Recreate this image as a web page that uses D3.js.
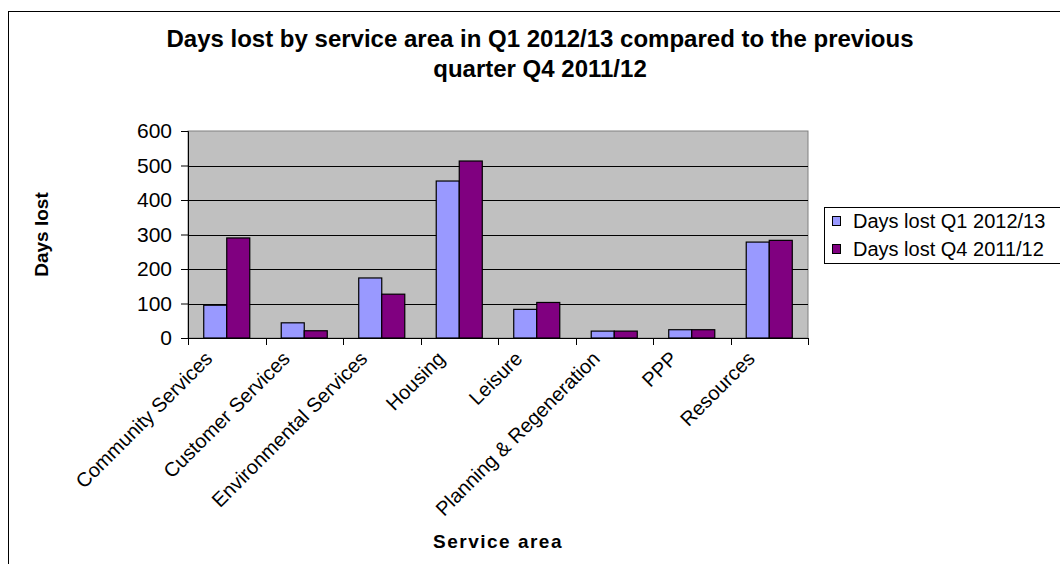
<!DOCTYPE html>
<html>
<head>
<meta charset="utf-8">
<script src="https://cdn.jsdelivr.net/npm/d3@7"></script>
<style>
  body { margin: 0; background: #fff; }
  text { font-family: 'Liberation Sans', Arial, sans-serif; fill: #000; }
</style>
</head>
<body>
<svg></svg>
<script>
const width = 1060;
const height = 564;

const categories = ['Community Services', 'Customer Services', 'Environmental Services', 'Housing',
  'Leisure', 'Planning & Regeneration', 'PPP', 'Resources'];
const seriesNames = ['Days lost Q1 2012/13', 'Days lost Q4 2011/12'];
const q1Values = [95, 44, 174, 455, 83, 20, 24, 278];
const q4Values = [290, 21, 127, 513, 103, 20, 24, 283];
const yTicks = [0, 100, 200, 300, 400, 500, 600];
const colors = ['#9999FF', '#800080'];

const plot = { left: 188, right: 808, top: 131, bottom: 338 };

const svg = d3.select('svg')
  .attr('width', width)
  .attr('height', height);

// outer chart border (runs off the right/bottom edge)
svg.append('rect')
  .attr('x', 8.5)
  .attr('y', 11.5)
  .attr('width', 1100)
  .attr('height', 600)
  .attr('fill', '#fff')
  .attr('stroke', '#000');

const x0 = d3.scaleBand()
  .domain(categories)
  .range([plot.left, plot.right])
  .paddingInner(0.406)
  .paddingOuter(0.203);

const x1 = d3.scaleBand()
  .domain([0, 1])
  .range([0, x0.bandwidth()]);

const yScale = d3.scaleLinear()
  .domain([0, 600])
  .range([plot.bottom, plot.top]);

// ====================================
// Plot area + gridlines
// ====================================
svg.append('rect')
  .attr('x', plot.left)
  .attr('y', plot.top)
  .attr('width', plot.right - plot.left)
  .attr('height', plot.bottom - plot.top)
  .attr('fill', '#C0C0C0')
  .attr('stroke', '#808080');

svg.append('g')
  .selectAll('line')
  .data(yTicks.slice(1, -1))
  .enter()
  .append('line')
  .attr('x1', plot.left)
  .attr('x2', plot.right)
  .attr('y1', d => Math.round(yScale(d)) + 0.5)
  .attr('y2', d => Math.round(yScale(d)) + 0.5)
  .attr('stroke', '#000');

// ====================================
// Bars
// ====================================
const rows = categories.map((c, i) => ({ cat: c, vals: [q1Values[i], q4Values[i]] }));

svg.append('g')
  .selectAll('g')
  .data(rows)
  .enter()
  .append('g')
  .attr('transform', d => `translate(${x0(d.cat)}, 0)`)
  .selectAll('rect')
  .data(d => d.vals.map((v, k) => ({ k, v })))
  .enter()
  .append('rect')
  .attr('x', d => x1(d.k))
  .attr('y', d => yScale(d.v))
  .attr('width', x1.bandwidth())
  .attr('height', d => plot.bottom - yScale(d.v))
  .attr('fill', d => colors[d.k])
  .attr('stroke', '#000')
  .attr('stroke-width', 1.2);

// ====================================
// X and Y Axis
// ====================================
const yAxis = d3.axisLeft(yScale)
  .tickValues(yTicks)
  .tickSize(7)
  .tickPadding(9);

svg.append('g')
  .attr('transform', `translate(${plot.left}, 0)`)
  .call(yAxis)
  .call(g => g.select('.domain').attr('stroke', '#000'))
  .call(g => g.selectAll('text').attr('font-size', '21px'));

// x axis: ticks at category boundaries
const step = x0.step();
const boundaries = d3.range(categories.length + 1).map(i => plot.left + i * step);

svg.append('line')
  .attr('x1', plot.left)
  .attr('x2', plot.right)
  .attr('y1', plot.bottom + 0.5)
  .attr('y2', plot.bottom + 0.5)
  .attr('stroke', '#000');

svg.append('g')
  .selectAll('line')
  .data(boundaries)
  .enter()
  .append('line')
  .attr('x1', d => Math.round(d) + 0.5)
  .attr('x2', d => Math.round(d) + 0.5)
  .attr('y1', plot.bottom)
  .attr('y2', plot.bottom + 7)
  .attr('stroke', '#000');

svg.append('g')
  .selectAll('text')
  .data(categories)
  .enter()
  .append('text')
  .attr('transform', d => `translate(${x0(d) + x0.bandwidth() / 2 - 23}, 350) rotate(-45)`)
  .attr('text-anchor', 'end')
  .attr('dy', '0.7em')
  .attr('font-size', '20px')
  .text(d => d);

// ====================================
// Titles
// ====================================
svg.append('text')
  .attr('x', 540)
  .attr('y', 47)
  .attr('text-anchor', 'middle')
  .attr('font-size', '24px')
  .attr('font-weight', 'bold')
  .selectAll('tspan')
  .data(['Days lost by service area in Q1 2012/13 compared to the previous', 'quarter Q4 2011/12'])
  .enter()
  .append('tspan')
  .attr('x', 540)
  .attr('dy', (d, i) => i ? 30 : 0)
  .text(d => d);

svg.append('text')
  .attr('x', (plot.left + plot.right) / 2)
  .attr('y', 548)
  .attr('text-anchor', 'middle')
  .attr('font-size', '19px')
  .attr('font-weight', 'bold')
  .attr('letter-spacing', '1.5px')
  .text('Service area');

svg.append('text')
  .attr('transform', `translate(48, ${(plot.top + plot.bottom) / 2}) rotate(-90)`)
  .attr('text-anchor', 'middle')
  .attr('font-size', '19px')
  .attr('font-weight', 'bold')
  .text('Days lost');

// ====================================
// Legend
// ====================================
const legend = svg.append('g');

legend.append('rect')
  .attr('x', 824.5)
  .attr('y', 207.5)
  .attr('width', 300)
  .attr('height', 56)
  .attr('fill', '#fff')
  .attr('stroke', '#000');

const items = legend.selectAll('g.item')
  .data(seriesNames)
  .enter()
  .append('g')
  .attr('transform', (d, i) => `translate(0, ${228 + i * 28})`);

items.append('rect')
  .attr('x', 832.5)
  .attr('y', -11.5)
  .attr('width', 8)
  .attr('height', 9)
  .attr('fill', (d, i) => colors[i])
  .attr('stroke', '#000');

items.append('text')
  .attr('x', 853)
  .attr('font-size', '20px')
  .text(d => d);
</script>
</body>
</html>
